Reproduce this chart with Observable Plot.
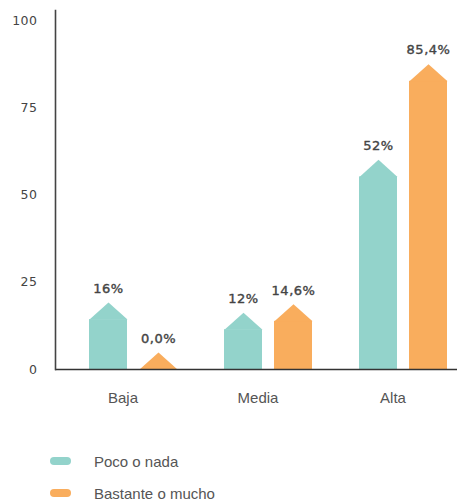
<!DOCTYPE html>
<html>
<head>
<meta charset="utf-8">
<script src="https://cdn.jsdelivr.net/npm/d3@7"></script>
<script src="https://cdn.jsdelivr.net/npm/@observablehq/plot@0.6"></script>
<style>
  html, body { margin: 0; padding: 0; background: #fff; overflow: hidden; }
  #chart { width: 457px; }
  .legend { margin-top: 25px; padding-left: 50px; font-family: "Liberation Sans", Arial, sans-serif; font-size: 15px; color: #555; }
  .legend .item { display: flex; align-items: center; height: 32px; }
  .legend .sw { width: 21px; height: 8px; border-radius: 4px; margin-right: 23px; }
  .semibold text { letter-spacing: 0.5px; }
</style>
</head>
<body>
<div id="chart"></div>
<script>
// ---- data ----
const groups = ["Baja", "Media", "Alta"];
const series = ["Poco o nada", "Bastante o mucho"];
const colors = ["#93d3cb", "#f9ad5d"];
// bar heights as drawn
const pocoValues = [14.3, 11.4, 55.2];
const bastanteValues = [0, 13.8, 82.6];
// value labels printed above the bars
const pocoLabels = ["16%", "12%", "52%"];
const bastanteLabels = ["0,0%", "14,6%", "85,4%"];
const yTicks = [0, 25, 50, 75, 100];

const rows = [];
groups.forEach((g, i) => {
  rows.push({group: g, series: series[0], value: pocoValues[i], label: pocoLabels[i]});
  rows.push({group: g, series: series[1], value: bastanteValues[i], label: bastanteLabels[i]});
});

// pointed cap (triangle sitting on the bar top)
const cap = {
  draw(context, size) {
    const r = Math.sqrt(size / Math.PI);
    context.moveTo(-r, 0);
    context.lineTo(0, -r * 0.9);
    context.lineTo(r, 0);
    context.closePath();
  }
};

const font = "DejaVu Sans, sans-serif";

const plot = Plot.plot({
  width: 457,
  height: 420,
  marginTop: 10,
  marginBottom: 51,
  marginLeft: 55,
  marginRight: 0,
  style: {fontFamily: font, overflow: "hidden"},
  fx: {domain: groups, range: [55, 460], paddingInner: 0, paddingOuter: 0, label: null},
  x: {domain: series, range: [88, 176.5], paddingInner: 0.25, paddingOuter: 0, axis: null},
  y: {domain: [0, 102.9], label: null},
  color: {domain: series, range: colors},
  marks: [
    Plot.barY(rows, {fx: "group", x: "series", y: "value", fill: "series"}),
    Plot.dot(rows, {fx: "group", x: "series", y: "value", fill: "series", stroke: null, r: 19, symbol: cap}),
    Plot.text(rows, {fx: "group", x: "series", y: "value", text: "label", dy: -31, lineAnchor: "middle",
      fill: "#444", stroke: "#444", strokeWidth: 0.4, fontSize: 13, fontFamily: font, className: "semibold"}),
    Plot.ruleY([0], {stroke: "#333", strokeWidth: 1.6}),
    Plot.frame({anchor: "left", facetAnchor: "left", stroke: "#444", strokeWidth: 1.6}),
    Plot.axisY({ticks: yTicks, tickSize: 0, tickPadding: 18, label: null, facetAnchor: "left",
      fill: "#444", stroke: "#444", strokeWidth: 0.4, fontSize: 12.5, fontFamily: font, className: "semibold",
      tickFormat: d => String(d)}),
    Plot.axisFx({anchor: "bottom", tickSize: 0, tickPadding: 23, label: null,
      fill: "#555", fontSize: 15, fontFamily: "Liberation Sans, Arial, sans-serif"})
  ]
});
document.getElementById("chart").appendChild(plot);

const legend = document.createElement("div");
legend.className = "legend";
series.forEach((s, i) => {
  const item = document.createElement("div");
  item.className = "item";
  const sw = document.createElement("span");
  sw.className = "sw";
  sw.style.background = colors[i];
  const lab = document.createElement("span");
  lab.textContent = s;
  item.appendChild(sw);
  item.appendChild(lab);
  legend.appendChild(item);
});
document.getElementById("chart").appendChild(legend);
</script>
</body>
</html>
